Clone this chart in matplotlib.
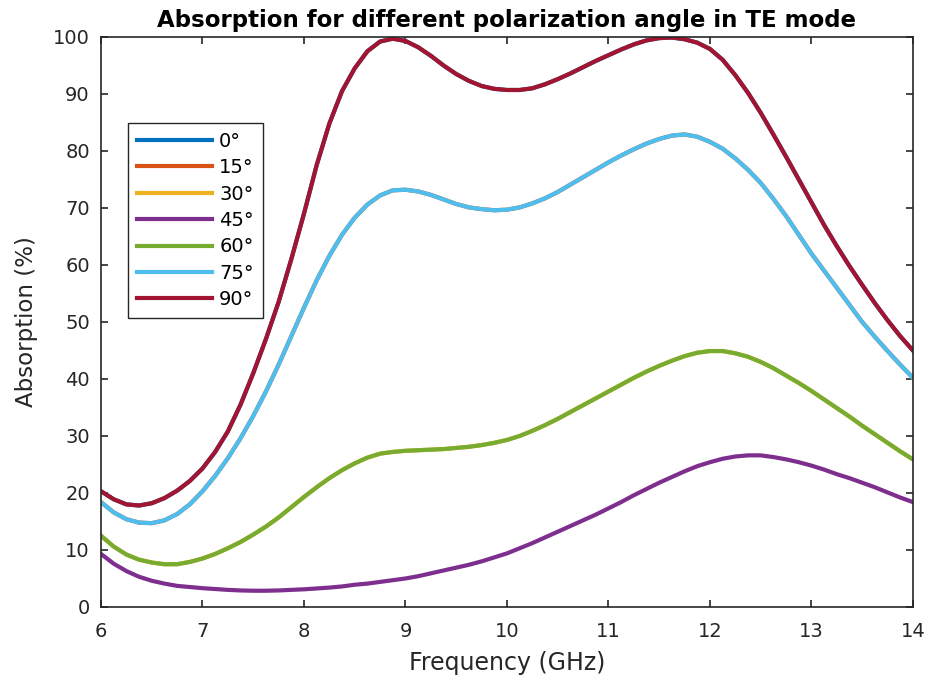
import numpy as np
import matplotlib.pyplot as plt

plt.rcParams['font.family'] = ['DejaVu Sans']

# frequency grid, 6 to 14 GHz in 0.125 GHz steps
freq = np.linspace(6, 14, 65)

# 0 deg and 90 deg coincide
abs_90 = [20.3, 18.9, 18.0, 17.8, 18.2, 19.1, 20.4, 22.1, 24.3, 27.2, 30.8,
          35.5, 41.0, 47.0, 53.5, 61.0, 69.0, 77.5, 84.8, 90.5, 94.5, 97.5,
          99.2, 99.7, 99.3, 98.2, 96.7, 95.0, 93.5, 92.3, 91.4, 90.9, 90.7,
          90.7, 91.0, 91.7, 92.6, 93.6, 94.7, 95.8, 96.8, 97.8, 98.7, 99.4,
          99.8, 99.9, 99.6, 99.0, 97.9, 96.0, 93.3, 90.2, 86.7, 82.9, 79.0,
          75.0, 71.0, 67.0, 63.3, 59.8, 56.5, 53.3, 50.3, 47.5, 45.0]
# 15 deg and 75 deg coincide
abs_75 = [18.4, 16.6, 15.4, 14.8, 14.7, 15.2, 16.3, 18.0, 20.3, 23.0, 26.1,
          29.6, 33.5, 37.8, 42.5, 47.5, 52.5, 57.3, 61.6, 65.3, 68.3, 70.6,
          72.2, 73.1, 73.2, 72.9, 72.3, 71.5, 70.7, 70.1, 69.8, 69.6, 69.7,
          70.1, 70.8, 71.7, 72.8, 74.1, 75.4, 76.7, 78.0, 79.2, 80.3, 81.3,
          82.1, 82.7, 82.9, 82.5, 81.6, 80.4, 78.7, 76.7, 74.4, 71.6, 68.6,
          65.3, 62.0, 59.0, 56.0, 53.0, 50.0, 47.4, 44.9, 42.5, 40.2]
# 30 deg and 60 deg coincide
abs_60 = [12.5, 10.6, 9.2, 8.3, 7.8, 7.5, 7.5, 7.9, 8.5, 9.3, 10.3,
          11.4, 12.7, 14.1, 15.7, 17.5, 19.3, 21.0, 22.6, 24.0, 25.2, 26.2,
          26.9, 27.2, 27.4, 27.5, 27.6, 27.7, 27.9, 28.1, 28.4, 28.8, 29.3,
          30.0, 30.9, 31.9, 33.0, 34.2, 35.4, 36.6, 37.8, 39.0, 40.2, 41.3,
          42.3, 43.2, 44.0, 44.6, 44.9, 44.9, 44.5, 43.9, 43.0, 41.9, 40.6,
          39.3, 37.9, 36.4, 34.9, 33.4, 31.8, 30.3, 28.8, 27.3, 25.9]
abs_45 = [9.3, 7.6, 6.3, 5.3, 4.6, 4.1, 3.7, 3.5, 3.3, 3.15, 3.0,
          2.9, 2.85, 2.85, 2.9, 3.0, 3.1, 3.25, 3.4, 3.6, 3.9, 4.1,
          4.4, 4.7, 5.0, 5.4, 5.9, 6.4, 6.9, 7.4, 8.0, 8.7, 9.4,
          10.3, 11.2, 12.2, 13.2, 14.2, 15.2, 16.2, 17.3, 18.4, 19.6, 20.7,
          21.8, 22.8, 23.8, 24.7, 25.4, 26.0, 26.4, 26.6, 26.6, 26.3, 25.9,
          25.4, 24.8, 24.1, 23.3, 22.6, 21.8, 21.0, 20.1, 19.2, 18.4]

labels = ['0°', '15°', '30°', '45°', '60°', '75°', '90°']
series = [abs_90, abs_75, abs_60, abs_45, abs_60, abs_75, abs_90]
colors = ['#0072BD', '#D95319', '#EDB120', '#7E2F8E', '#77AC30', '#4DBEEE',
          '#A2142F']

fig = plt.figure(figsize=(9.29, 6.81), dpi=100)
ax = fig.add_axes([0.1087, 0.1087, 0.874, 0.837])

for lab, y, c in zip(labels, series, colors):
    ax.plot(freq, y, color=c, lw=3.0, label=lab)

ax.set_xlim(6, 14)
ax.set_ylim(0, 100)
ax.set_xticks(np.arange(6, 15, 1))
ax.set_yticks(np.arange(0, 101, 10))
ax.tick_params(direction='in', top=True, right=True, length=5, width=1.2,
               labelsize=14, colors='#262626')
ax.tick_params(axis='x', pad=11)
ax.tick_params(axis='y', pad=8)
for sp in ax.spines.values():
    sp.set_linewidth(1.2)
    sp.set_color('#262626')

ax.set_xlabel('Frequency (GHz)', fontsize=17, color='#262626', labelpad=7)
ax.set_ylabel('Absorption (%)', fontsize=16.5, color='#262626', labelpad=11)
ax.set_title('Absorption for different polarization angle in TE mode',
             fontsize=16.5, fontweight='bold', pad=7)

leg = ax.legend(loc='upper left', bbox_to_anchor=(0.033, 0.849),
                borderaxespad=0, fontsize=14, handlelength=3.9,
                labelspacing=0.38, fancybox=False, framealpha=1,
                borderpad=0.45, handletextpad=0.35)
leg.get_frame().set_edgecolor('#262626')
leg.get_frame().set_linewidth(1.0)

plt.savefig('out.png', dpi=100)
